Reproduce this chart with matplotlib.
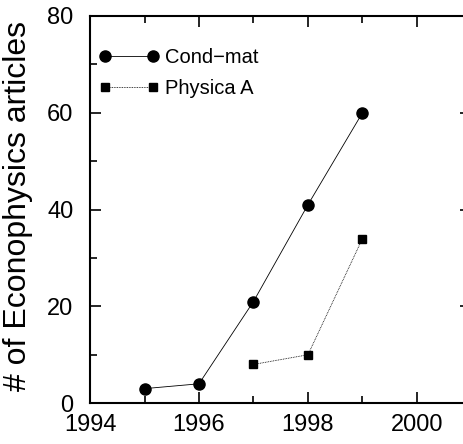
import matplotlib
matplotlib.use("Agg")
import matplotlib.pyplot as plt
from matplotlib.ticker import MultipleLocator

plt.rcParams['font.family'] = ['Liberation Sans', 'DejaVu Sans']

# data
cond_years = [1995, 1996, 1997, 1998, 1999]
cond_counts = [3, 4, 21, 41, 60]
phys_years = [1997, 1998, 1999]
phys_counts = [8, 10, 34]

fig = plt.figure(figsize=(4.64, 4.44), dpi=100)
ax = fig.add_axes([0.194, 0.092, 0.822, 0.872])

ax.plot(cond_years, cond_counts, color='black', lw=0.6, marker='o', ms=8,
        label='Cond\u2212mat')
ax.plot(phys_years, phys_counts, color='black', lw=0.6, ls=(0, (1, 1)),
        marker='s', ms=6, label='Physica A')

ax.set_xlim(1994, 2001)
ax.set_ylim(0, 80)
ax.xaxis.set_major_locator(MultipleLocator(2))
ax.xaxis.set_minor_locator(MultipleLocator(1))
ax.yaxis.set_major_locator(MultipleLocator(20))
ax.yaxis.set_minor_locator(MultipleLocator(10))
ax.tick_params(which='both', direction='in', top=True, right=True, width=1.2)
ax.tick_params(which='major', length=8, labelsize=17)
ax.tick_params(axis='x', which='major', pad=8)
ax.tick_params(axis='y', which='major', pad=12)
ax.tick_params(which='minor', length=5)
for s in ax.spines.values():
    s.set_linewidth(1.5)

ax.set_ylabel('# of Econophysics articles', fontsize=23)
ax.yaxis.set_label_coords(-0.15, 0.51)

ax.legend(loc='upper left', bbox_to_anchor=(0.024, 0.918), frameon=False,
          numpoints=2, fontsize=14.5, handlelength=2.95, handletextpad=0.32,
          labelspacing=0.6, borderpad=0, borderaxespad=0)

fig.savefig('out.png', dpi=100)
